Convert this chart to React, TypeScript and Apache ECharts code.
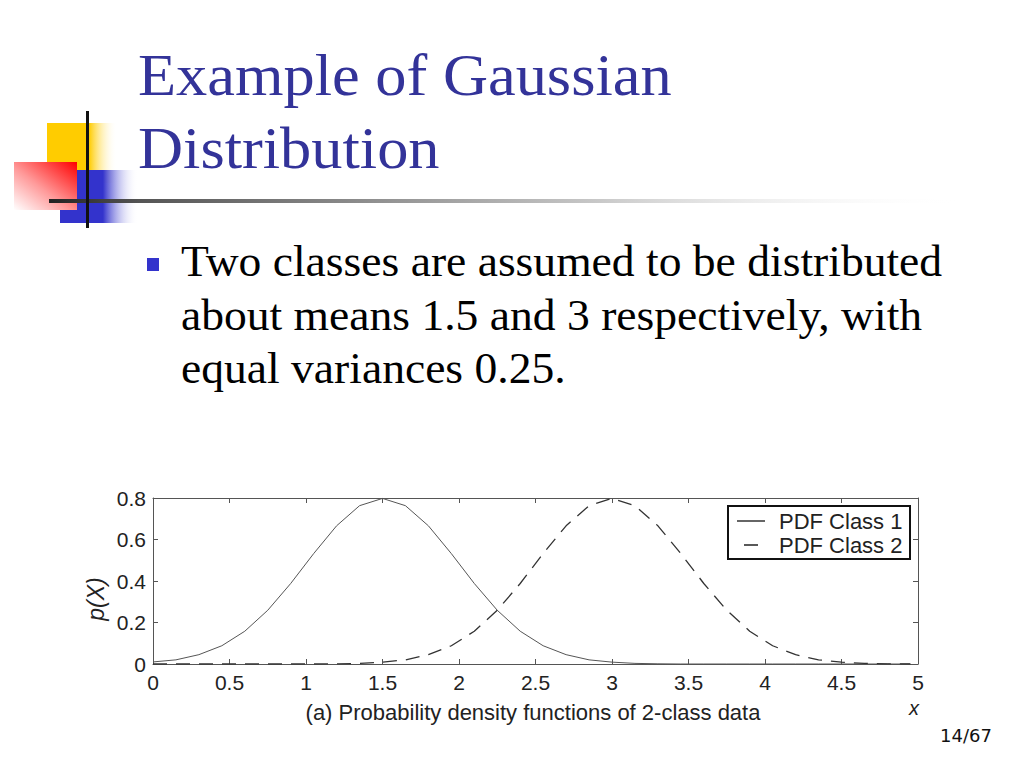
import React, { useEffect, useRef } from "react";
import * as echarts from "echarts";

const xValues = [
  0, 0.15, 0.3, 0.45, 0.6, 0.75, 0.9, 1.05, 1.2, 1.35, 1.5, 1.65, 1.8, 1.95,
  2.1, 2.25, 2.4, 2.55, 2.7, 2.85, 3.0, 3.15, 3.3, 3.45, 3.6, 3.75, 3.9, 4.05,
  4.2, 4.35, 4.5, 4.65, 4.8, 4.95,
];
const class1Values = [
  0.01, 0.02, 0.045, 0.088, 0.158, 0.259, 0.388, 0.532, 0.666, 0.763, 0.798,
  0.763, 0.666, 0.532, 0.388, 0.259, 0.158, 0.088, 0.045, 0.02, 0.009, 0.003,
  0.001, 0, 0, 0, 0, 0, 0, 0, 0, 0, 0, 0,
];
const class2Values = [
  0, 0, 0, 0, 0, 0, 0, 0, 0.001, 0.003, 0.009, 0.02, 0.045, 0.088, 0.158,
  0.259, 0.388, 0.532, 0.666, 0.763, 0.798, 0.763, 0.666, 0.532, 0.388, 0.259,
  0.158, 0.088, 0.045, 0.02, 0.009, 0.003, 0.001, 0,
];
const seriesNames = ["PDF Class 1", "PDF Class 2"];
const titleLines = ["Example of Gaussian", "Distribution"];
const bodyLines = [
  "Two classes are assumed to be distributed",
  "about means 1.5 and 3 respectively, with",
  "equal variances 0.25.",
];
const caption = "(a) Probability density functions of 2-class data";
const yName = "p(X)";
const xName = "x";
const pageNumber = "14/67";

const SANS = "'Liberation Sans', Arial, sans-serif";
const SERIF = "'Liberation Serif', 'Times New Roman', serif";

export default function App() {
  const ref = useRef<HTMLDivElement>(null);
  useEffect(() => {
    if (!ref.current) return;
    const chart = echarts.init(ref.current, null, { renderer: "svg" });
    const pairs1 = xValues.map((x, i) => [x, class1Values[i]]);
    const pairs2 = xValues.map((x, i) => [x, class2Values[i]]);
    const axisLine = { show: true, onZero: false, lineStyle: { color: "#555", width: 1 } };
    const axisTick = { show: true, inside: true, length: 5, lineStyle: { color: "#555", width: 1 } };
    const labelStyle = { fontSize: 21, color: "#222", fontFamily: SANS };
    const txt = (text: string, x: number, y: number, font: any, extra: any = {}) => ({
      type: "text",
      x,
      y,
      silent: true,
      ...extra,
      style: {
        text,
        fill: font.fill || "#000",
        fontSize: font.size,
        fontFamily: font.family,
        fontStyle: font.style || "normal",
        textAlign: font.align || "left",
        align: font.align || "left",
        textVerticalAlign: "middle",
        verticalAlign: "middle",
      },
    });
    const option: any = {
      animation: false,
      backgroundColor: "#fff",
      grid: { left: 153, top: 498, width: 765, height: 166, containLabel: false },
      xAxis: [
        {
          type: "value", min: 0, max: 5, interval: 0.5, position: "bottom",
          axisLine, axisTick, splitLine: { show: false },
          axisLabel: { ...labelStyle, margin: 8 },
        },
        {
          type: "value", min: 0, max: 5, interval: 0.5, position: "top",
          axisLine, axisTick, splitLine: { show: false }, axisLabel: { show: false },
        },
      ],
      yAxis: [
        {
          type: "value", min: 0, max: 0.8, interval: 0.2, position: "left",
          axisLine, axisTick, splitLine: { show: false },
          axisLabel: { ...labelStyle, margin: 7 },
        },
        {
          type: "value", min: 0, max: 0.8, interval: 0.2, position: "right",
          axisLine, axisTick, splitLine: { show: false }, axisLabel: { show: false },
        },
      ],
      series: [
        {
          name: seriesNames[0], type: "line", data: pairs1, symbol: "none", showSymbol: false,
          xAxisIndex: 0, yAxisIndex: 0,
          lineStyle: { color: "#555", width: 1 },
        },
        {
          name: seriesNames[1], type: "line", data: pairs2, symbol: "none", showSymbol: false,
          xAxisIndex: 0, yAxisIndex: 0,
          lineStyle: { color: "#333", width: 1.3, type: [14, 9] },
        },
      ],
      graphic: [
        // logo
        {
          type: "rect", shape: { x: 47, y: 123, width: 70, height: 60 }, silent: true,
          style: {
            fill: new echarts.graphic.LinearGradient(0, 0, 1, 0, [
              { offset: 0, color: "#FFCC00" },
              { offset: 0.6, color: "#FFCC00" },
              { offset: 1, color: "rgba(255,255,255,0)" },
            ]),
          },
        },
        {
          type: "rect", shape: { x: 60, y: 170, width: 78, height: 53 }, silent: true,
          style: {
            fill: new echarts.graphic.LinearGradient(0, 0, 1, 0, [
              { offset: 0, color: "#3333CC" },
              { offset: 0.55, color: "#3333CC" },
              { offset: 1, color: "rgba(255,255,255,0)" },
            ]),
          },
        },
        {
          type: "rect", shape: { x: 14, y: 162, width: 63, height: 48 }, silent: true,
          style: {
            fill: new echarts.graphic.LinearGradient(1, 0, 0, 1, [
              { offset: 0, color: "#FF0000" },
              { offset: 0.55, color: "#FF9999" },
              { offset: 1, color: "#FFFFFF" },
            ]),
          },
        },
        {
          type: "rect", shape: { x: 49, y: 199, width: 915, height: 4 }, silent: true,
          style: {
            fill: new echarts.graphic.LinearGradient(0, 0, 1, 0, [
              { offset: 0, color: "#222" },
              { offset: 0.1, color: "#555" },
              { offset: 0.6, color: "#C8C8C8" },
              { offset: 1, color: "rgba(255,255,255,0)" },
            ]),
          },
        },
        {
          type: "rect", shape: { x: 86, y: 111, width: 3, height: 117 }, silent: true,
          style: { fill: "#111" },
        },
        // title
        txt(titleLines[0], 138, 74, { size: 60, family: SERIF, fill: "#333399" }, { scaleX: 1.04 }),
        txt(titleLines[1], 138, 147, { size: 60, family: SERIF, fill: "#333399" }, { scaleX: 1.04 }),
        // bullet
        { type: "rect", shape: { x: 147, y: 258, width: 12, height: 13 }, silent: true, style: { fill: "#3333CC" } },
        txt(bodyLines[0], 181, 261, { size: 44, family: SERIF }, { scaleX: 1.036 }),
        txt(bodyLines[1], 181, 315, { size: 44, family: SERIF }, { scaleX: 1.036 }),
        txt(bodyLines[2], 181, 368, { size: 44, family: SERIF }, { scaleX: 1.036 }),
        // axis names
        txt(yName, 96, 599, { size: 23, family: SANS, style: "italic", align: "center", fill: "#222" }, { rotation: Math.PI / 2 }),
        txt(xName, 914, 708, { size: 20, family: SANS, style: "italic", align: "center", fill: "#222" }),
        txt(caption, 533, 712, { size: 22, family: SANS, align: "center", fill: "#222" }),
        // legend
        {
          type: "rect", shape: { x: 728, y: 506, width: 182, height: 53 }, silent: true,
          style: { fill: "#fff", stroke: "#111", lineWidth: 2 },
        },
        {
          type: "line", shape: { x1: 737, y1: 521, x2: 765, y2: 521 }, silent: true,
          style: { stroke: "#333", lineWidth: 1.5 },
        },
        {
          type: "line", shape: { x1: 744, y1: 545, x2: 758, y2: 545 }, silent: true,
          style: { stroke: "#222", lineWidth: 1.5 },
        },
        txt(seriesNames[0], 779, 521, { size: 22, family: SANS, fill: "#222" }),
        txt(seriesNames[1], 779, 545, { size: 22, family: SANS, fill: "#222" }),
        // page number
        txt(pageNumber, 966, 735, { size: 18, family: "Tahoma, 'DejaVu Sans', sans-serif", align: "center", fill: "#111" }),
      ],
    };
    chart.setOption(option);
    return () => chart.dispose();
  }, []);
  return (
    <div
      ref={ref}
      style={{ position: "fixed", left: 0, top: 0, width: 1024, height: 768, background: "#fff" }}
    />
  );
}
